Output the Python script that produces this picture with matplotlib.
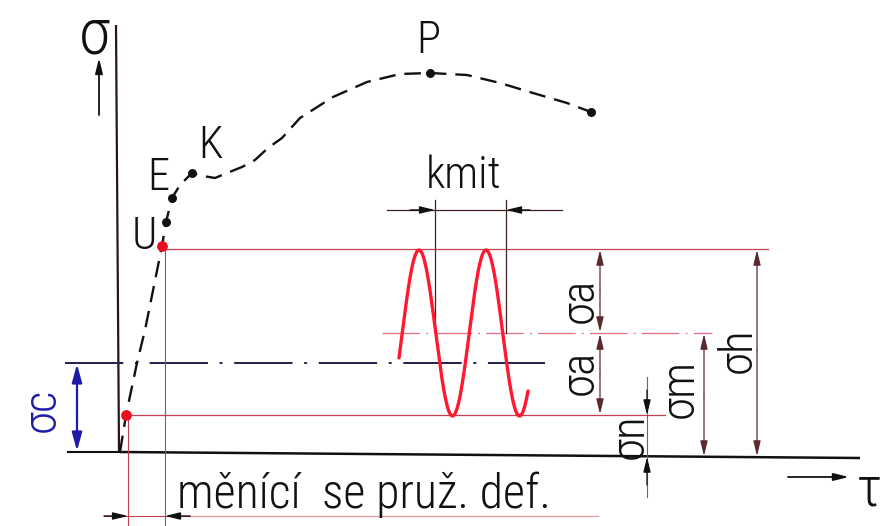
import matplotlib
matplotlib.use('Agg')
import matplotlib.pyplot as plt
import numpy as np
from matplotlib import font_manager
from matplotlib.font_manager import FontProperties

# ---------------- data (drawing coordinates, pixels of the 883x526 sheet) ------------
# stress-strain curve (dashed)
curve_x = [120, 126, 137, 145, 162, 166, 172, 180, 192, 203, 215, 227, 242, 255, 268, 282,
           300, 333, 367, 400, 430, 467, 500, 533, 567, 591]
curve_y = [452, 415, 363, 330, 246, 222, 198, 185, 173, 176, 178, 173, 167, 160, 148, 138,
           118, 97, 82, 74, 73, 75, 83, 93, 103, 112]
black_dot_x = [166, 172, 192, 430, 591]
black_dot_y = [222, 198, 173, 73, 112]
red_dot_x = [162, 126]
red_dot_y = [246, 415]
point_labels = ['U', 'E', 'K', 'P']
point_label_x = [144, 158, 210, 428]
point_label_y = [237, 178, 146, 41]

# stress levels
level_h = 249      # upper stress (sigma_h)
level_m = 333      # mean stress (sigma_m)
level_n = 415      # lower stress (sigma_n)
level_c = 363      # fatigue limit (sigma_c)

# cyclic load (sine)
wave_start, wave_end = 399, 528
wave_zero = 402.25
wave_period = 67
wave_amp = 83

# dimension labels
dim_labels = ['σa', 'σa', 'σn', 'σm', 'σh', 'σc']
dim_label_x = [580, 580, 630, 680, 738, 42]
dim_label_y = [300, 372, 436, 388, 350, 410]
kmit_text = 'kmit'
bottom_text = 'měnící  se pruž. def.'

# ---------------- font choice ------------
def pick_font():
    fl = font_manager.fontManager.ttflist
    for want, weights in [('Roboto Condensed', (300, 'light')),
                          ('Roboto Condensed', (400, 'normal', 'regular')),
                          ('Liberation Sans Narrow', (400, 'normal', 'regular')),
                          ('DejaVu Sans Condensed', (400, 'normal', 'regular'))]:
        for f in fl:
            if f.name == want and f.style == 'normal' and f.weight in weights:
                return f.fname
    for f in fl:
        if f.name == 'DejaVu Sans' and 'condensed' in str(f.stretch) and f.style == 'normal' \
                and f.weight in (400, 'normal', 'regular'):
            return f.fname
    return None

FONT_FILE = pick_font()

def fp(size):
    if FONT_FILE:
        return FontProperties(fname=FONT_FILE, size=size)
    return FontProperties(family='DejaVu Sans', size=size * 0.8)

# ---------------- figure ------------
W, H = 883, 526
fig = plt.figure(figsize=(W / 100, H / 100), dpi=100)
ax = fig.add_axes([0, 0, 1, 1])
ax.set_xlim(0, W)
ax.set_ylim(H, 0)
ax.axis('off')

BLACK = '#111111'
THIN_RED = '#c04050'
PINK = '#e8a0a8'
NAVY = '#20204a'
BLUE = '#1c1ca8'
RED = '#ff1830'

# axes
ax.plot([116, 119], [25, 452], color='#2a1418', lw=1.6, solid_capstyle='butt')
ax.plot([120, 860], [452, 458], color=BLACK, lw=1.8, solid_capstyle='butt')

def arrow(x0, y0, x1, y1, color=BLACK, lw=1.0, style='-|>', hl=0.9, hw=0.22):
    ax.annotate('', xy=(x1, y1), xytext=(x0, y0),
                arrowprops=dict(arrowstyle=f'{style},head_length={hl},head_width={hw}',
                                color=color, lw=lw, shrinkA=0, shrinkB=0))

# axis direction arrows
arrow(99, 115, 99, 58, lw=1.3)
arrow(788, 477, 849, 477, lw=1.3)

# horizontal reference lines
ax.plot([162, 768], [level_h, level_h], color=THIN_RED, lw=0.9)
ax.plot([382, 712], [level_m, level_m], color='#e07080', lw=0.9, dashes=(30, 5, 1.5, 5))
ax.plot([126, 665], [level_n, level_n], color=THIN_RED, lw=0.9)
ax.plot([65, 545], [level_c, level_c], color=NAVY, lw=1.4, dashes=(30, 6, 1.5, 6))

# vertical extension lines for the bottom dimension
ax.plot([128, 128], [level_n, 526], color=THIN_RED, lw=0.8)
ax.plot([165, 165], [level_h, 526], color=THIN_RED, lw=0.8)
# bottom dimension line
ax.plot([190, 598], [516, 516], color=PINK, lw=1.0)
ax.plot([104, 190], [516, 516], color=THIN_RED, lw=0.8)
arrow(104, 516, 128, 516, lw=1.0)
arrow(190, 516, 165, 516, lw=1.0)

# sigma_c dimension (blue)
ax.plot([68, 120], [452, 452], color=BLACK, lw=1.5)
arrow(77, 408, 77, level_c + 1, color=BLUE, lw=1.6, hl=1.1, hw=0.3)
arrow(77, 408, 77, 451, color=BLUE, lw=1.6, hl=1.1, hw=0.3)

# kmit dimension
ax.plot([435, 435], [200, level_m], color='#402020', lw=0.9)
ax.plot([506, 506], [200, level_m], color='#402020', lw=0.9)
ax.plot([387, 562], [210, 210], color='#402020', lw=0.9)
arrow(410, 210, 435, 210, lw=1.0)
arrow(530, 210, 506, 210, lw=1.0)

# sine wave of the load
wx = np.linspace(wave_start, wave_end, 400)
wy = level_m - wave_amp * np.sin(2 * np.pi * (wx - wave_zero) / wave_period)
ax.plot(wx, wy, color=RED, lw=2.4, solid_capstyle='round')

# right-hand dimensions
DIMC = '#5a2a30'
arrow(600, 290, 600, level_h + 1, color=DIMC, lw=0.9)
arrow(600, 290, 600, level_m - 1, color=DIMC, lw=0.9)
arrow(600, 374, 600, level_m + 1, color=DIMC, lw=0.9)
arrow(600, 374, 600, level_n - 1, color=DIMC, lw=0.9)
ax.plot([647, 647], [377, 497], color=THIN_RED, lw=0.8)
arrow(647, 390, 647, level_n, color=BLACK, lw=0.9)
arrow(647, 485, 647, 457, color=BLACK, lw=0.9)
arrow(704, 395, 704, level_m + 1, color=DIMC, lw=0.9)
arrow(704, 395, 704, 456, color=DIMC, lw=0.9)
arrow(757, 350, 757, level_h + 1, color=DIMC, lw=0.9)
arrow(757, 350, 757, 456, color=DIMC, lw=0.9)

# stress-strain curve
ax.plot(curve_x, curve_y, color=BLACK, lw=1.7, dashes=(7, 3.8), dash_capstyle='butt')
ax.scatter(black_dot_x, black_dot_y, s=42, color=BLACK, zorder=5, linewidths=0)
ax.scatter(red_dot_x, red_dot_y, s=60, color='#e8101c', zorder=5, linewidths=0)

# texts
LS = 32
for t, x, y in zip(point_labels, point_label_x, point_label_y):
    ax.text(x, y, t, fontproperties=fp(LS), ha='center', va='center', color=BLACK)
ax.text(464, 176, kmit_text, fontproperties=fp(LS), ha='center', va='center', color=BLACK)
ax.text(177, 508, bottom_text, fontproperties=fp(34.5), ha='left', va='baseline', color=BLACK)
ax.text(95, 36, 'σ', fontproperties=fp(46), ha='center', va='center', color=BLACK)
ax.text(869, 490, 'τ', fontproperties=fp(40), ha='center', va='center', color=BLACK)

for t, x, y in zip(dim_labels, dim_label_x, dim_label_y):
    ax.text(x, y, t, fontproperties=fp(34), ha='center', va='center', rotation=90,
            color=BLUE if t == 'σc' else BLACK)

fig.savefig('out.png', dpi=100)
